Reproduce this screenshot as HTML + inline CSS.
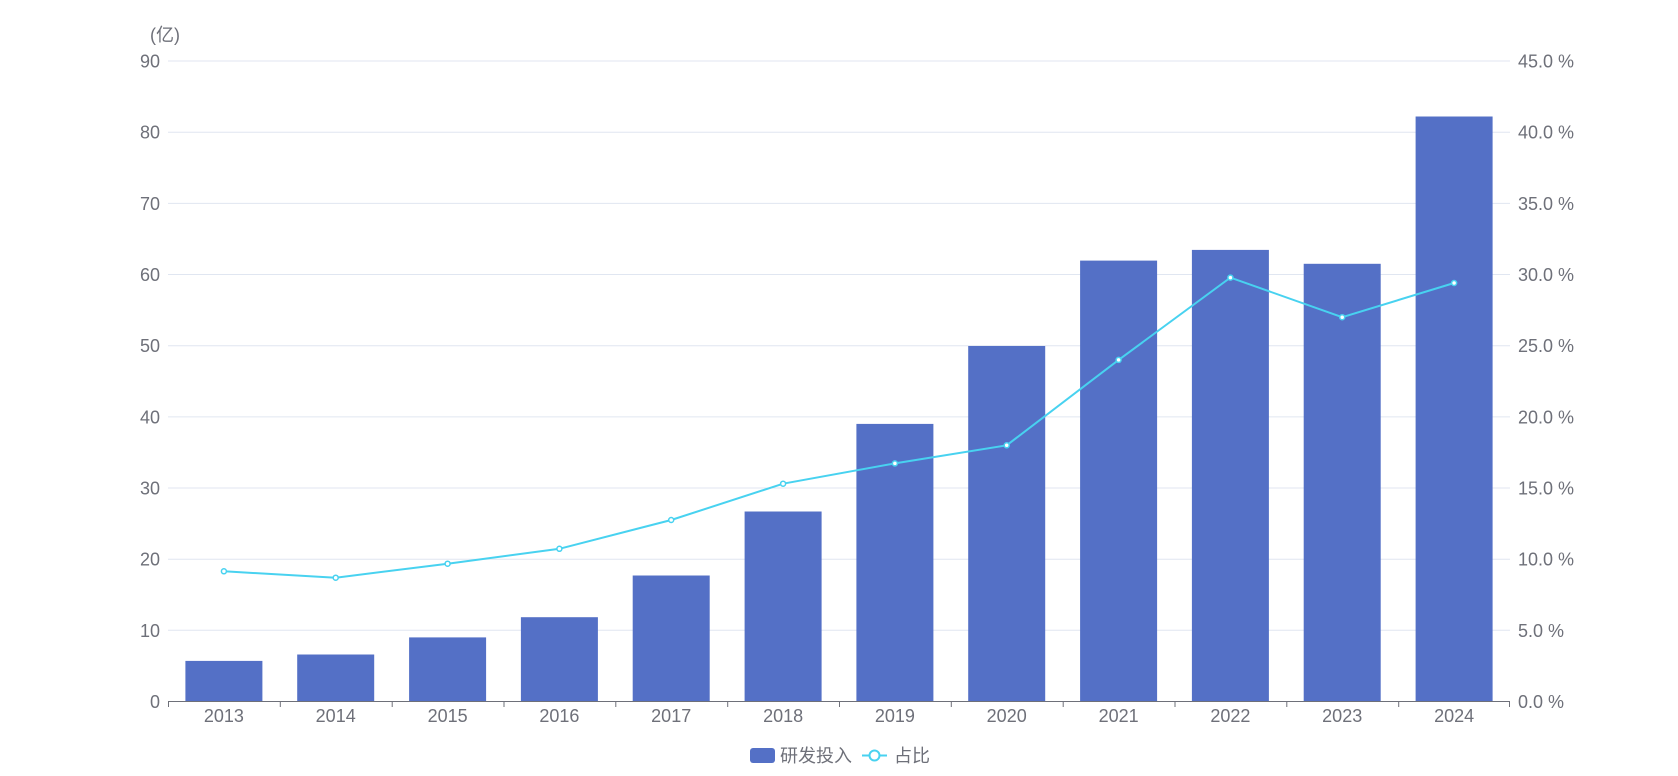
<!DOCTYPE html>
<html><head><meta charset="utf-8"><style>
html,body{margin:0;padding:0;background:#fff}
svg text{font-family:"Liberation Sans","Noto Sans CJK SC",sans-serif;fill:#6e7079;font-size:18px}
</style></head><body>
<svg width="1678" height="771" viewBox="0 0 1678 771">
<g stroke="#e0e6f1" stroke-width="1">
<line x1="168" x2="1510" y1="630.3" y2="630.3"/>
<line x1="168" x2="1510" y1="559.2" y2="559.2"/>
<line x1="168" x2="1510" y1="488" y2="488"/>
<line x1="168" x2="1510" y1="416.9" y2="416.9"/>
<line x1="168" x2="1510" y1="345.7" y2="345.7"/>
<line x1="168" x2="1510" y1="274.5" y2="274.5"/>
<line x1="168" x2="1510" y1="203.4" y2="203.4"/>
<line x1="168" x2="1510" y1="132.2" y2="132.2"/>
<line x1="168" x2="1510" y1="61" y2="61"/>
</g>
<g fill="#5470c6">
<rect x="185.4" y="660.9" width="77" height="40.6"/>
<rect x="297.2" y="654.5" width="77" height="47"/>
<rect x="409.1" y="637.4" width="77" height="64.1"/>
<rect x="520.9" y="617.2" width="77" height="84.3"/>
<rect x="632.7" y="575.5" width="77" height="126"/>
<rect x="744.6" y="511.5" width="77" height="190"/>
<rect x="856.4" y="423.9" width="77" height="277.6"/>
<rect x="968.2" y="346" width="77" height="355.5"/>
<rect x="1080.1" y="260.6" width="77" height="440.9"/>
<rect x="1191.9" y="249.9" width="77" height="451.6"/>
<rect x="1303.7" y="263.8" width="77" height="437.7"/>
<rect x="1415.6" y="116.5" width="77" height="585"/>
</g>
<g stroke="#6e7079" stroke-width="1">
<line x1="168" x2="1510" y1="701.5" y2="701.5"/>
<line x1="168.5" x2="168.5" y1="701.5" y2="707"/>
<line x1="280.3" x2="280.3" y1="701.5" y2="707"/>
<line x1="392.2" x2="392.2" y1="701.5" y2="707"/>
<line x1="504" x2="504" y1="701.5" y2="707"/>
<line x1="615.8" x2="615.8" y1="701.5" y2="707"/>
<line x1="727.7" x2="727.7" y1="701.5" y2="707"/>
<line x1="839.5" x2="839.5" y1="701.5" y2="707"/>
<line x1="951.3" x2="951.3" y1="701.5" y2="707"/>
<line x1="1063.2" x2="1063.2" y1="701.5" y2="707"/>
<line x1="1175" x2="1175" y1="701.5" y2="707"/>
<line x1="1286.8" x2="1286.8" y1="701.5" y2="707"/>
<line x1="1398.7" x2="1398.7" y1="701.5" y2="707"/>
<line x1="1509.5" x2="1509.5" y1="701.5" y2="707"/>
</g>
<polyline fill="none" stroke="#48d2f0" stroke-width="2" points="223.9,571.3 335.7,577.7 447.6,563.7 559.4,548.8 671.2,520 783.1,483.7 894.9,463.4 1006.7,445.3 1118.6,359.9 1230.4,277.6 1342.2,317.2 1454.1,283"/>
<g fill="#fff" stroke="#48d2f0" stroke-width="1.5">
<circle cx="223.9" cy="571.3" r="2.5"/><circle cx="335.7" cy="577.7" r="2.5"/><circle cx="447.6" cy="563.7" r="2.5"/><circle cx="559.4" cy="548.8" r="2.5"/><circle cx="671.2" cy="520" r="2.5"/><circle cx="783.1" cy="483.7" r="2.5"/><circle cx="894.9" cy="463.4" r="2.5"/><circle cx="1006.7" cy="445.3" r="2.5"/><circle cx="1118.6" cy="359.9" r="2.5"/><circle cx="1230.4" cy="277.6" r="2.5"/><circle cx="1342.2" cy="317.2" r="2.5"/><circle cx="1454.1" cy="283" r="2.5"/>
</g>
<g text-anchor="end">
<text x="160" y="708">0</text>
<text x="160" y="636.8">10</text>
<text x="160" y="565.7">20</text>
<text x="160" y="494.5">30</text>
<text x="160" y="423.4">40</text>
<text x="160" y="352.2">50</text>
<text x="160" y="281">60</text>
<text x="160" y="209.9">70</text>
<text x="160" y="138.7">80</text>
<text x="160" y="67.5">90</text>
</g>
<text x="150" y="41">(亿)</text>
<g>
<text x="1518" y="708">0.0 %</text>
<text x="1518" y="636.8">5.0 %</text>
<text x="1518" y="565.7">10.0 %</text>
<text x="1518" y="494.5">15.0 %</text>
<text x="1518" y="423.4">20.0 %</text>
<text x="1518" y="352.2">25.0 %</text>
<text x="1518" y="281">30.0 %</text>
<text x="1518" y="209.9">35.0 %</text>
<text x="1518" y="138.7">40.0 %</text>
<text x="1518" y="67.5">45.0 %</text>
</g>
<g text-anchor="middle">
<text x="223.9" y="722">2013</text><text x="335.7" y="722">2014</text><text x="447.6" y="722">2015</text><text x="559.4" y="722">2016</text><text x="671.2" y="722">2017</text><text x="783.1" y="722">2018</text><text x="894.9" y="722">2019</text><text x="1006.7" y="722">2020</text><text x="1118.6" y="722">2021</text><text x="1230.4" y="722">2022</text><text x="1342.2" y="722">2023</text><text x="1454.1" y="722">2024</text>
</g>
<rect x="750" y="748" width="25" height="15" rx="3" fill="#5470c6"/>
<text x="780" y="762">研发投入</text>
<line x1="862" x2="887" y1="755.5" y2="755.5" stroke="#48d2f0" stroke-width="2"/>
<circle cx="874.5" cy="755.5" r="5" fill="#fff" stroke="#48d2f0" stroke-width="2"/>
<text x="894" y="762">占比</text>
</svg>
</body></html>
